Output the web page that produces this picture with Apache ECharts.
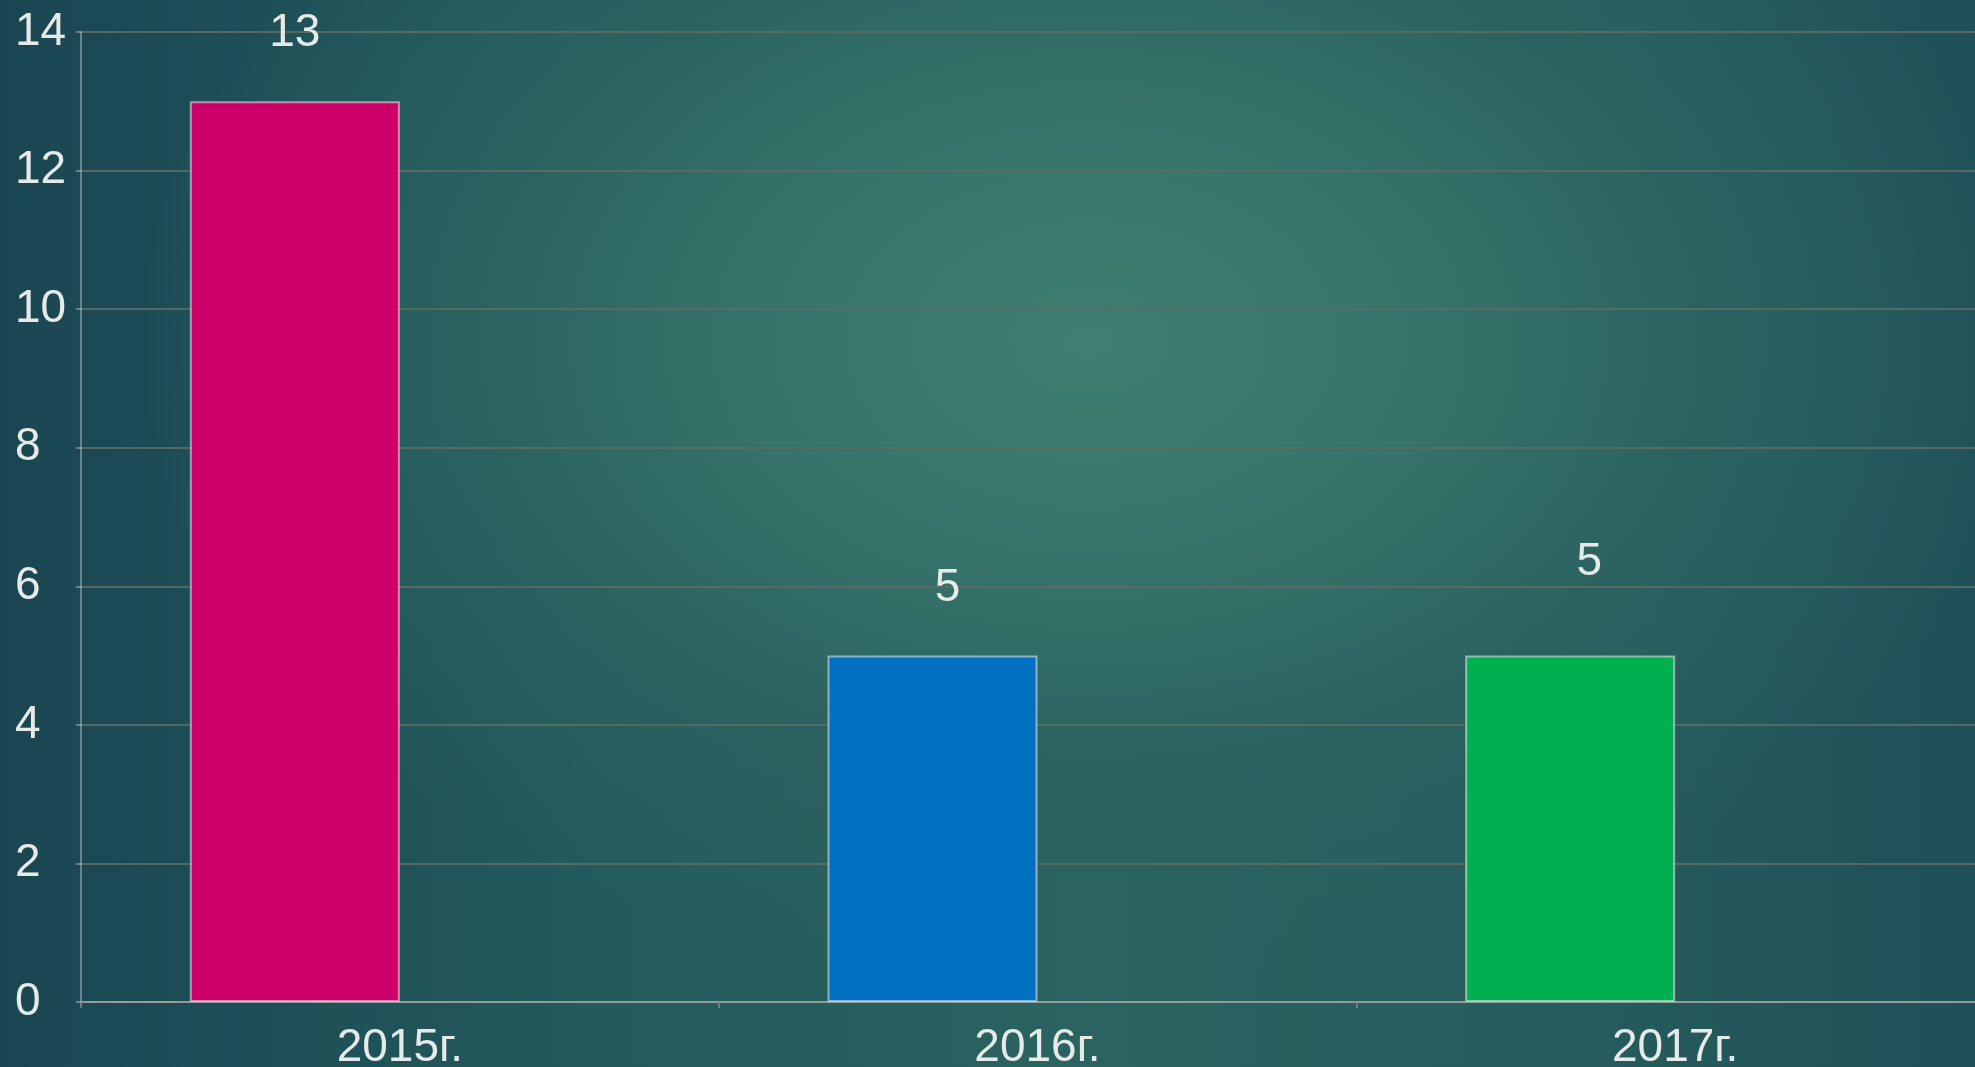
<!DOCTYPE html>
<html>
<head>
<meta charset="utf-8">
<script src="https://cdn.jsdelivr.net/npm/echarts@6/dist/echarts.min.js"></script>
<style>
  html, body { margin: 0; padding: 0; width: 1975px; height: 1067px; overflow: hidden; }
  body {
    background:
      radial-gradient(ellipse 950px 650px at 1090px 340px, #3f7e71 0%, #36736a 35%, #2b6260 65%, rgba(30,76,84,0) 100%),
      linear-gradient(90deg, #1a4652 0%, #235a5c 30%, #2a6360 55%, #265c5d 80%, #1f5058 100%);
  }
  #chart { width: 1975px; height: 1067px; }
</style>
</head>
<body>
<div id="chart"></div>
<script>
// данные диаграммы
var categories = ['2015г.', '2016г.', '2017г.'];
var values = [13, 5, 5];
var emptyValues = [null, null, null]; // второй ряд пустой, он только сдвигает столбцы влево
var yTicks = { min: 0, max: 14, step: 2 };

// оформление
var barColors = ['#cc0068', '#0070c2', '#00b050'];
var labelOffsets = [[0, -40], [15, -39], [19, -65]];

var textColor = '#e6eae8';
var fontFamily = '"Liberation Sans", Arial, sans-serif';

var chart = echarts.init(document.getElementById('chart'));

var barData = values.map(function (v, i) {
  return {
    value: v,
    itemStyle: { color: barColors[i] },
    label: { offset: labelOffsets[i] }
  };
});

var option = {
  backgroundColor: 'transparent',
  animation: false,
  grid: {
    left: 81,
    top: 32,
    right: -19,
    height: 970,
    containLabel: false,
    outerBoundsMode: 'none'
  },
  xAxis: {
    type: 'category',
    data: categories,
    axisLine: {
      show: true,
      lineStyle: { color: 'rgba(200,205,205,0.7)', width: 1.5 }
    },
    axisTick: {
      show: true,
      length: 6,
      lineStyle: { color: 'rgba(120,130,130,0.9)', width: 2 }
    },
    axisLabel: {
      color: textColor,
      fontSize: 46,
      fontFamily: fontFamily,
      margin: 23
    },
    splitLine: { show: false }
  },
  yAxis: {
    type: 'value',
    min: yTicks.min,
    max: yTicks.max,
    interval: yTicks.step,
    axisLine: {
      show: true,
      lineStyle: { color: 'rgba(200,205,205,0.6)', width: 1.5 }
    },
    axisTick: {
      show: true,
      length: 5,
      lineStyle: { color: 'rgba(200,205,205,0.6)', width: 1.5 }
    },
    axisLabel: {
      color: textColor,
      fontSize: 46,
      fontFamily: fontFamily,
      align: 'left',
      margin: 66
    },
    splitLine: {
      show: true,
      lineStyle: { color: 'rgba(92,106,102,0.9)', width: 2 }
    }
  },
  series: [
    {
      name: 'Ряд 1',
      type: 'bar',
      barWidth: 210,
      barGap: '0%',
      data: barData,
      itemStyle: {
        borderColor: 'rgba(225,225,225,0.6)',
        borderWidth: 2
      },
      label: {
        show: true,
        position: 'top',
        distance: 5,
        color: textColor,
        fontSize: 46,
        fontFamily: fontFamily
      }
    },
    {
      name: 'Ряд 2',
      type: 'bar',
      barWidth: 210,
      barGap: '0%',
      data: emptyValues
    }
  ]
};

chart.setOption(option);
</script>
</body>
</html>
